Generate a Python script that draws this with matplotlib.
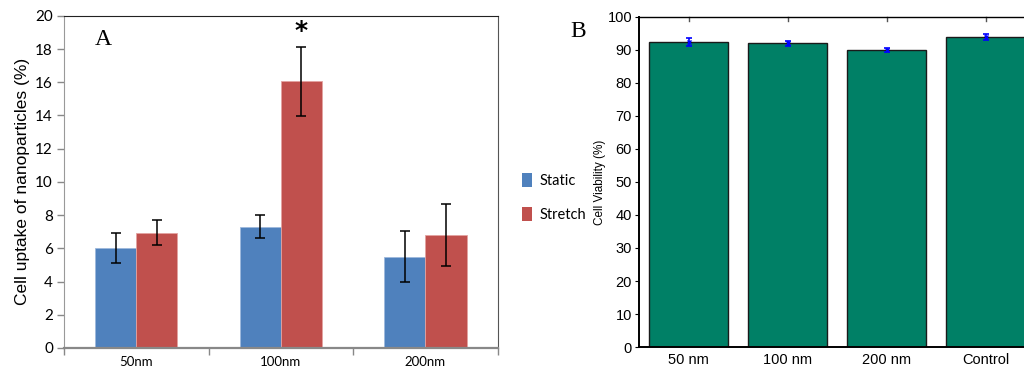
import numpy as np
import matplotlib
matplotlib.use("Agg")
import matplotlib.pyplot as plt
from matplotlib.patches import Patch

# panel A data
sizes_a = ["50nm", "100nm", "200nm"]
static_mean = [6.0, 7.3, 5.5]
static_err = [0.9, 0.7, 1.55]
stretch_mean = [6.95, 16.05, 6.8]
stretch_err = [0.75, 2.1, 1.85]
yticks_a = [0, 2, 4, 6, 8, 10, 12, 14, 16, 18, 20]

# panel B data
sizes_b = ["50 nm", "100 nm", "200 nm", "Control"]
viability = [92.5, 92.0, 90.0, 94.0]
viability_err = [1.2, 0.7, 0.7, 0.9]
yticks_b = [0, 10, 20, 30, 40, 50, 60, 70, 80, 90, 100]

blue = "#4f81bd"
red = "#c0504d"
green = "#008066"

fig = plt.figure(figsize=(10.24, 3.69), dpi=100)

# ---------- panel A ----------
ax = fig.add_axes([0.0625, 0.057, 0.4235, 0.9])
x = np.arange(len(sizes_a))
w = 0.285
ax.bar(x - w / 2, static_mean, w, color=blue, edgecolor="#9db8dc", linewidth=0.6)
ax.bar(x + w / 2, stretch_mean, w, color=red, edgecolor="#e3a3a1", linewidth=0.6)
ax.errorbar(x - w / 2, static_mean, yerr=static_err, fmt="none", ecolor="black",
            elinewidth=1.1, capsize=3.5, capthick=1.1)
ax.errorbar(x + w / 2, stretch_mean, yerr=stretch_err, fmt="none", ecolor="black",
            elinewidth=1.1, capsize=3.5, capthick=1.1)
ax.set_xlim(-0.5, 2.5)
ax.set_ylim(0, 20)
ax.set_yticks(yticks_a)
ax.set_yticklabels([str(v) for v in yticks_a], fontfamily="Lato", fontsize=11)
ax.set_xticks(x)
ax.set_xticklabels(sizes_a, fontfamily="Lato", fontsize=9.5)
ax.set_xticks([-0.5, 0.5, 1.5, 2.5], minor=True)
ax.tick_params(axis="x", which="major", length=0, pad=6)
ax.tick_params(axis="x", which="minor", length=5, color="#888888", width=1)
ax.tick_params(axis="y", length=5, color="#888888", width=1, pad=3)
ax.spines["left"].set_color("#999999")
ax.spines["bottom"].set_color("#888888")
ax.spines["bottom"].set_linewidth(1.6)
ax.spines["top"].set_color("#222222")
ax.spines["right"].set_color("#555555")
ax.set_ylabel("Cell uptake of nanoparticles (%)", fontfamily="Liberation Sans",
              fontsize=12.5, labelpad=4)
ax.text(0.07, 0.93, "A", transform=ax.transAxes, fontfamily="Liberation Serif",
        fontsize=17, va="center", ha="left")
ax.text(1 + w / 2, 18.35, "*", ha="center", va="bottom", fontsize=18,
        fontweight="bold", fontfamily="DejaVu Sans")

handles = [Patch(facecolor=blue), Patch(facecolor=red)]
fig.legend(handles, ["Static", "Stretch"], loc="center left",
           bbox_to_anchor=(0.51, 0.465), frameon=False, handlelength=0.7,
           handleheight=1.1, handletextpad=0.5, labelspacing=1.3,
           borderaxespad=0, borderpad=0,
           prop={"family": "Lato", "size": 10.5})

# ---------- panel B ----------
bx = fig.add_axes([0.624, 0.0596, 0.387, 0.8944])
xb = np.arange(len(sizes_b))
bx.bar(xb, viability, 0.8, color=green, edgecolor="#1a1a1a", linewidth=1.0)
bx.errorbar(xb, viability, yerr=viability_err, fmt="x", color="blue",
            markersize=3, elinewidth=1.2, capsize=2.5, capthick=1.2)
bx.set_xlim(-0.5, 3.5)
bx.set_ylim(0, 100)
bx.set_yticks(yticks_b)
bx.set_yticklabels([str(v) for v in yticks_b], fontfamily="Liberation Sans", fontsize=10.5)
bx.set_xticks(xb)
bx.set_xticklabels(sizes_b, fontfamily="Liberation Sans", fontsize=10.5)
bx.tick_params(axis="x", length=0, pad=4)
bx.tick_params(axis="y", length=3, width=0.8, pad=2)
for v in xb:
    bx.plot([v, v], [100, 98.8], color="#555555", lw=1, clip_on=False)
bx.spines["left"].set_linewidth(1.4)
bx.spines["bottom"].set_linewidth(1.4)
bx.spines["top"].set_linewidth(1.0)
bx.spines["right"].set_visible(False)
bx.set_ylabel("Cell Viability (%)", fontfamily="Liberation Sans", fontsize=8.5, labelpad=1)
fig.text(0.557, 0.915, "B", fontfamily="Liberation Serif", fontsize=17,
         va="center", ha="left")

fig.savefig("out.png", dpi=100)
